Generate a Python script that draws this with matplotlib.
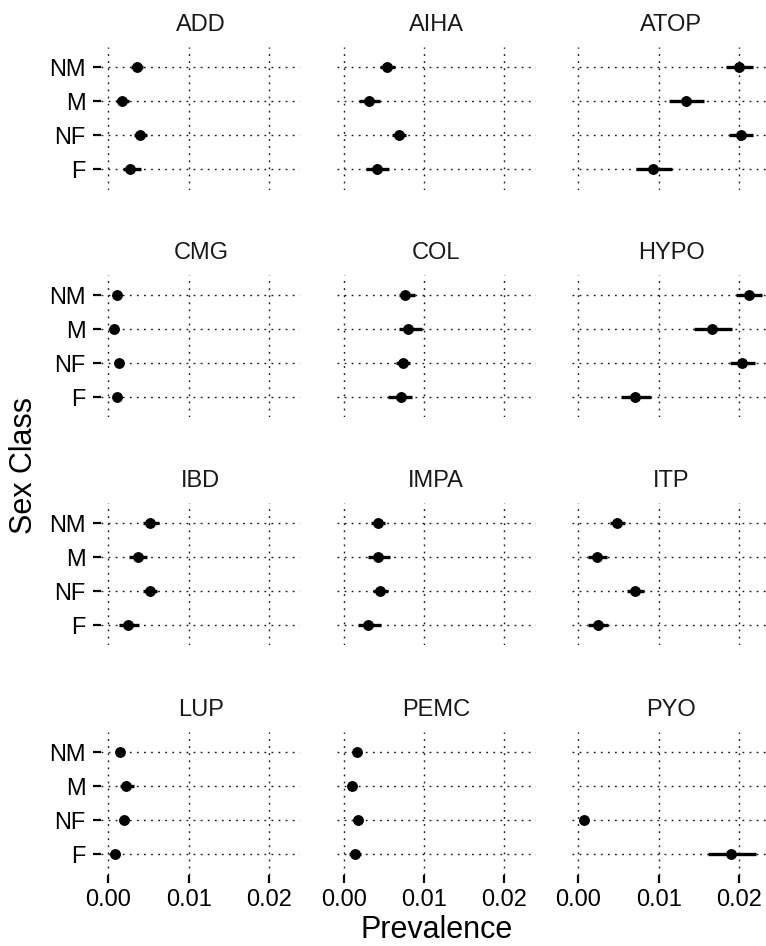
import numpy as np
import matplotlib.pyplot as plt

plt.rcParams['font.family'] = ['Liberation Sans', 'DejaVu Sans']
plt.rcParams['lines.scale_dashes'] = False

diseases = ["ADD", "AIHA", "ATOP", "CMG", "COL", "HYPO",
            "IBD", "IMPA", "ITP", "LUP", "PEMC", "PYO"]
# order: NM, M, NF, F (top to bottom)
sex_class = ["NM", "M", "NF", "F"]

est = [
    [0.00354, 0.00171, 0.00396, 0.00268],   # ADD
    [0.00537, 0.00311, 0.00683, 0.00409],   # AIHA
    [0.02000, 0.01341, 0.02024, 0.00933],   # ATOP
    [0.00110, 0.00067, 0.00128, 0.00110],   # CMG
    [0.00768, 0.00805, 0.00732, 0.00707],   # COL
    [0.02124, 0.01660, 0.02033, 0.00705],   # HYPO
    [0.00518, 0.00372, 0.00518, 0.00244],   # IBD
    [0.00427, 0.00427, 0.00451, 0.00305],   # IMPA
    [0.00482, 0.00226, 0.00707, 0.00238],   # ITP
    [0.00146, 0.00220, 0.00195, 0.00085],   # LUP
    [0.00159, 0.00098, 0.00177, 0.00134],   # PEMC
    [np.nan, np.nan, 0.00073, 0.01896],     # PYO
]
lower = [
    [0.00280, 0.00098, 0.00323, 0.00183],
    [0.00445, 0.00195, 0.00598, 0.00274],
    [0.01841, 0.01128, 0.01872, 0.00713],
    [0.00080, 0.00040, 0.00090, 0.00080],
    [0.00689, 0.00689, 0.00652, 0.00549],
    [0.01959, 0.01444, 0.01888, 0.00531],
    [0.00427, 0.00262, 0.00433, 0.00134],
    [0.00335, 0.00305, 0.00366, 0.00171],
    [0.00396, 0.00122, 0.00610, 0.00122],
    [0.00098, 0.00140, 0.00140, 0.00040],
    [0.00120, 0.00050, 0.00130, 0.00070],
    [np.nan, np.nan, 0.00050, 0.01616],
]
upper = [
    [0.00433, 0.00262, 0.00476, 0.00402],
    [0.00640, 0.00445, 0.00780, 0.00567],
    [0.02177, 0.01567, 0.02177, 0.01159],
    [0.00140, 0.00100, 0.00160, 0.00140],
    [0.00884, 0.00976, 0.00823, 0.00854],
    [0.02290, 0.01909, 0.02200, 0.00900],
    [0.00628, 0.00488, 0.00610, 0.00384],
    [0.00518, 0.00579, 0.00549, 0.00457],
    [0.00579, 0.00354, 0.00811, 0.00366],
    [0.00195, 0.00320, 0.00260, 0.00150],
    [0.00200, 0.00150, 0.00230, 0.00210],
    [np.nan, np.nan, 0.00100, 0.02213],
]

xticks = [0.0, 0.01, 0.02]
xtick_labels = ["0.00", "0.01", "0.02"]

W, H = 766, 946
fig = plt.figure(figsize=(W / 100, H / 100), dpi=100)

col_left = [101.3, 336.8, 571.5]
pw = 199
nm_y = [67.3, 295.0, 523.0, 752.3]
step = 34.0
ph = 4.2 * step

ypos = [4, 3, 2, 1]
dots = (0, (1.3, 3.8))

for i, d in enumerate(diseases):
    r, c = divmod(i, 3)
    top = nm_y[r] - 0.6 * step
    ax = fig.add_axes([col_left[c] / W, 1 - (top + ph) / H, pw / W, ph / H])
    ax.set_xlim(-0.00087, 0.0239)
    ax.set_ylim(0.4, 4.6)
    for s in ax.spines.values():
        s.set_visible(False)

    # dotted grid
    for x in xticks:
        ax.axvline(x, color='0.1', lw=1.0, ls=dots, zorder=1)
    for y in ypos:
        ax.axhline(y, color='0.1', lw=1.0, ls=dots, zorder=1)

    e = np.array(est[i])
    lo = np.array(lower[i])
    hi = np.array(upper[i])
    ok = ~np.isnan(e)
    yy = np.array(ypos)[ok]
    ax.hlines(yy, lo[ok], hi[ok], color='black', lw=2.4, zorder=2)
    ax.plot(e[ok], yy, 'o', color='black', ms=6.8, zorder=3)

    ax.set_xticks(xticks)
    ax.set_yticks(ypos)
    if r == 3:
        ax.set_xticklabels(xtick_labels, fontsize=17)
        ax.tick_params(axis='x', length=6, width=1.6, pad=4, color='black')
    else:
        ax.set_xticklabels([])
        ax.tick_params(axis='x', length=0)
    if c == 0:
        ax.set_yticklabels(sex_class, fontsize=17)
        ax.tick_params(axis='y', length=5.8, width=1.6, pad=5.5, color='black')
    else:
        ax.set_yticklabels([])
        ax.tick_params(axis='y', length=0)

    fig.text((col_left[c] + pw / 2) / W, 1 - (top - 16) / H, d,
             ha='center', va='baseline', fontsize=17, color='#1a1a1a')

fig.text(24 / W, 1 - 465 / H, "Sex Class", rotation=90,
         ha='center', va='center', fontsize=22)
fig.text(436.5 / W, 1 - 937.7 / H, "Prevalence",
         ha='center', va='baseline', fontsize=22)

fig.savefig("out.png", dpi=100)
